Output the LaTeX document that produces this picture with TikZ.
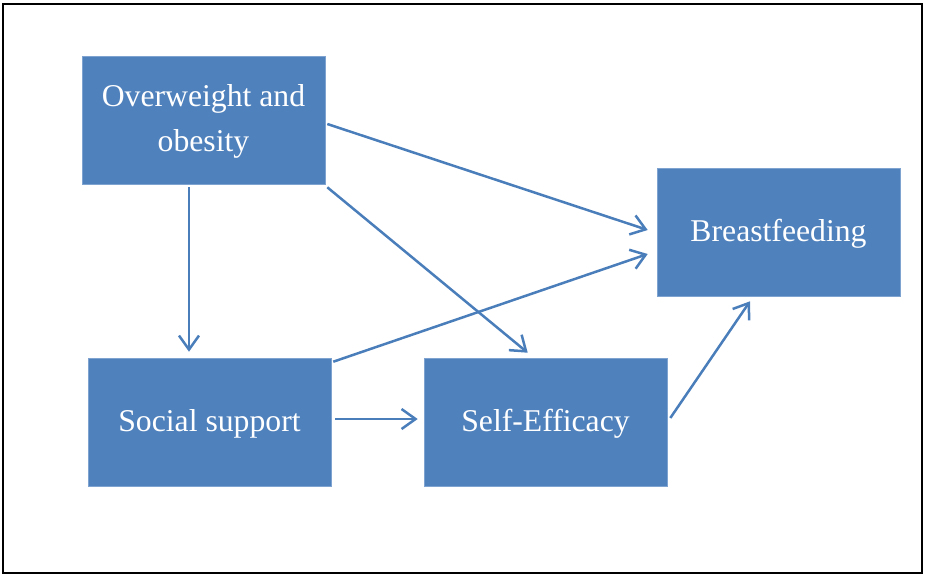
\documentclass[tikz,border=0pt]{standalone}
\usepackage{fontspec}
\setmainfont{Liberation Serif}
\usetikzlibrary{arrows.meta,positioning}
\definecolor{boxblue}{HTML}{4F81BD}
\definecolor{arrblue}{HTML}{4A7EBB}
\definecolor{edgeblue}{HTML}{7FA3D1}
\newcommand{\lowertext}[1]{\raisebox{-3pt}{\begin{tabular}{@{}c@{}}#1\end{tabular}}}
\begin{document}
\begin{tikzpicture}[x=1pt,y=-1pt,
  box/.style={rectangle,fill=boxblue,draw=edgeblue,line width=0.6pt,minimum width=243pt,minimum height=128pt,inner sep=0pt,text=white,align=center,font=\fontsize{31.7}{45}\selectfont},
  arr/.style={draw=arrblue,line width=2.5pt,-{Straight Barb[length=14pt,width=20pt,line width=2.5pt]}}]
\useasboundingbox (0,0) rectangle (925,576);
\draw[line width=2pt,black] (3,4) rectangle (922,573);
\node[box] (ow) at (203.5,120) {\lowertext{Overweight and\\obesity}};
\node[box] (bf) at (778.5,232) {\lowertext{Breastfeeding}};
\node[box] (ss) at (209.5,422) {\lowertext{Social support}};
\node[box] (se) at (545.5,422) {\lowertext{Self-Efficacy}};
\draw[arr] ([shift={(2,4)}]ow.east) -- ([shift={(-9,-2)}]bf.west);
\draw[arr] ([shift={(2,3)}]ow.south east) -- ([shift={(104,-5)}]se.north west);
\draw[arr] ([shift={(-14.5,3)}]ow.south) -- ([shift={(-20.5,-6)}]ss.north);
\draw[arr] ([shift={(2,4)}]ss.north east) -- ([shift={(-9,22)}]bf.west);
\draw[arr] ([shift={(4,-3)}]ss.east) -- ([shift={(-6,-3)}]se.west);
\draw[arr] ([shift={(3,-4)}]se.east) -- ([shift={(-28.5,5)}]bf.south);
\end{tikzpicture}
\end{document}
